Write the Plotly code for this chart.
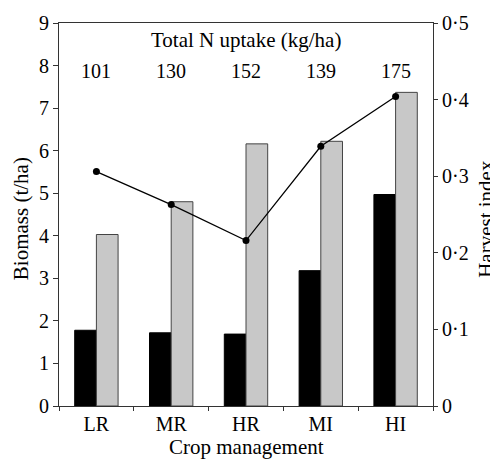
import plotly.graph_objects as go

categories = ["LR", "MR", "HR", "MI", "HI"]
grain_biomass = [1.78, 1.72, 1.69, 3.18, 4.97]
total_biomass = [4.03, 4.80, 6.16, 6.22, 7.37]
harvest_index = [0.306, 0.263, 0.216, 0.339, 0.404]
n_uptake = ["101", "130", "152", "139", "175"]
hi_ticks = [0, 0.1, 0.2, 0.3, 0.4, 0.5]
hi_ticktext = ["0", "0·1", "0·2", "0·3", "0·4", "0·5"]

FONT = "Liberation Serif, Times New Roman, serif"
AX = "#333333"
FS = 20
TS = 21

fig = go.Figure()
fig.add_trace(go.Bar(x=categories, y=grain_biomass, marker=dict(color="black", line=dict(color="black", width=1)),
                     showlegend=False))
fig.add_trace(go.Bar(x=categories, y=total_biomass, marker=dict(color="#c8c8c8", line=dict(color="#444444", width=1)),
                     showlegend=False))
fig.add_trace(go.Scatter(x=categories, y=harvest_index, yaxis="y2", mode="lines+markers",
                         line=dict(color="black", width=1.3), marker=dict(color="black", size=7),
                         showlegend=False))

for c, t in zip(categories, n_uptake):
    fig.add_annotation(x=c, y=0.875, xref="x", yref="paper", text=t, showarrow=False,
                       xanchor="center", yanchor="middle",
                       font=dict(family=FONT, size=FS, color="black"))
fig.add_annotation(x=0.5, y=0.955, xref="paper", yref="paper", text="Total N uptake (kg/ha)",
                   showarrow=False, xanchor="center", yanchor="middle",
                   font=dict(family=FONT, size=TS, color="black"))
# axis titles
fig.add_annotation(x=-0.102, y=0.49, xref="paper", yref="paper", text="Biomass (t/ha)", textangle=-90,
                   showarrow=False, xanchor="center", yanchor="middle",
                   font=dict(family=FONT, size=TS, color="black"))
fig.add_annotation(x=1.143, y=0.49, xref="paper", yref="paper", text="Harvest index", textangle=-90,
                   showarrow=False, xanchor="center", yanchor="middle",
                   font=dict(family=FONT, size=TS, color="black"))
fig.add_annotation(x=0.5, y=-0.108, xref="paper", yref="paper", text="Crop management",
                   showarrow=False, xanchor="center", yanchor="middle",
                   font=dict(family=FONT, size=TS, color="black"))

fig.update_layout(
    width=490, height=451,
    margin=dict(l=51, r=65, t=15, b=53),
    paper_bgcolor="white", plot_bgcolor="white",
    barmode="group", bargap=0.42, bargroupgap=0,
    font=dict(family=FONT, size=FS, color="black"),
    xaxis=dict(type="category", categoryorder="array", categoryarray=categories, automargin=False,
               tickson="boundaries", ticks="outside", ticklen=4, tickcolor=AX,
               showline=True, linecolor=AX, linewidth=1, mirror=True, showgrid=False),
    yaxis=dict(range=[0, 9], dtick=1, ticks="outside", ticklen=5, tickcolor=AX, automargin=False,
               showline=True, linecolor=AX, linewidth=1, showgrid=False, zeroline=False),
    yaxis2=dict(range=[0, 0.5], overlaying="y", side="right", tickvals=hi_ticks, ticktext=hi_ticktext,
                ticks="outside", ticklen=4, tickcolor=AX, showline=True, linecolor=AX, linewidth=1,
                showgrid=False, zeroline=False, automargin=False),
)

fig.write_html("out.html")
